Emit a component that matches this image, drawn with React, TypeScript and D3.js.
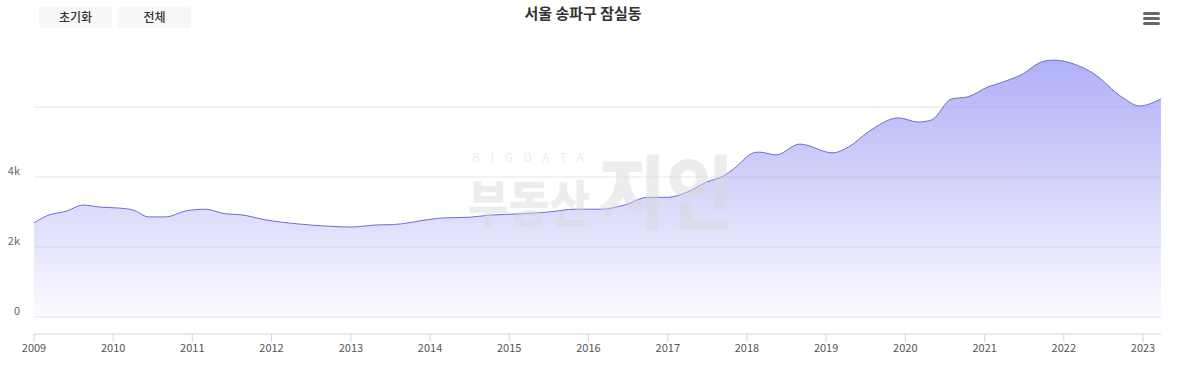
import React from "react";
import * as d3 from "d3";

const title = "서울 송파구 잠실동";
const buttons = ["초기화", "전체"];

const dates = [
  "2009-01-01","2009-03-01","2009-06-01","2009-08-15","2009-11-01","2010-02-01","2010-04-01","2010-06-15",
  "2010-09-01","2010-12-01","2011-03-01","2011-06-01","2011-08-15","2011-12-01","2012-05-01","2012-10-01",
  "2013-01-01","2013-05-01","2013-07-15","2014-01-01","2014-03-01","2014-07-01","2014-10-01","2015-03-01",
  "2015-07-01","2015-11-01","2016-03-01","2016-06-15","2016-10-01","2017-01-01","2017-04-01","2017-07-01",
  "2017-09-15","2017-11-01","2018-02-01","2018-03-01","2018-05-15","2018-09-01","2019-02-01","2019-04-15",
  "2019-07-15","2019-12-01","2020-03-01","2020-05-01","2020-08-01","2020-10-15","2021-01-15","2021-03-15",
  "2021-06-15","2021-10-01","2021-11-15","2022-03-01","2022-05-15","2022-10-01","2022-12-15","2023-03-25"
];
const values = [
  2690, 2890, 3030, 3200, 3140, 3110, 3060, 2860,
  2860, 3030, 3080, 2950, 2920, 2780, 2660, 2590,
  2570, 2630, 2640, 2790, 2830, 2850, 2910, 2950,
  3000, 3080, 3080, 3200, 3420, 3420, 3570, 3860,
  4030, 4230, 4690, 4710, 4630, 4940, 4690, 4860,
  5290, 5690, 5570, 5630, 6230, 6290, 6570, 6690,
  6910, 7310, 7340, 7200, 6970, 6260, 6030, 6230
];
const gridValues = [0, 2000, 4000, 6000];
const yLabelValues = [0, 2000, 4000];
const yearTicks = d3.range(2009, 2024);

export default function App() {
  const W = 1177, H = 379;
  const parse = d3.timeParse("%Y-%m-%d");
  const data = dates.map((d, i) => ({ date: parse(d) as Date, value: values[i] }));
  const x = d3.scaleTime()
    .domain([data[0].date, data[data.length - 1].date])
    .range([34, 1161]);
  const y = d3.scaleLinear().domain([0, 6000]).range([317, 107]);

  const line = d3.line<any>().x(d => x(d.date)).y(d => y(d.value)).curve(d3.curveMonotoneX);
  const area = d3.area<any>().x(d => x(d.date)).y0(y(0)).y1(d => y(d.value)).curve(d3.curveMonotoneX);
  const font = "'Noto Sans CJK KR', 'Noto Sans', sans-serif";

  return (
    <svg width={W} height={H} style={{ position: "absolute", left: 0, top: 0, background: "#fff" }}>
      <defs>
        <linearGradient id="areaGrad" x1="0" y1="0" x2="0" y2="1">
          <stop offset="0" stopColor="rgb(150,150,245)" stopOpacity={0.75} />
          <stop offset="1" stopColor="rgb(150,150,245)" stopOpacity={0.04} />
        </linearGradient>
      </defs>
      {/* buttons */}
      {buttons.map((b, i) => (
        <g key={b} transform={`translate(${39 + i * 79},7)`}>
          <rect width={73} height={21} rx={2} fill="#f7f7f7" />
          <text x={36.5} y={14.5} textAnchor="middle" fontSize={12} fontFamily={font} fill="#333" fontWeight={500}>{b}</text>
        </g>
      ))}
      {/* title */}
      <text x={583} y={19} textAnchor="middle" fontSize={15} fontWeight={700} fontFamily={font} fill="#333">{title}</text>
      {/* menu */}
      {[0, 5, 10].map(o => (
        <rect key={o} x={1143} y={12 + o} width={17} height={3} rx={1.5} fill="#666" />
      ))}
      {/* grid */}
      {gridValues.map(v => (
        <line key={v} x1={34} x2={1161} y1={y(v)} y2={y(v)} stroke="#e6e6e6" strokeWidth={1} />
      ))}
      {yLabelValues.map(v => (
        <text key={v} x={20} y={y(v) - 2} textAnchor="end" fontSize={11} fontFamily={font} fill="#666">
          {v === 0 ? "0" : `${v / 1000}k`}
        </text>
      ))}
      {/* area */}
      <path d={area(data) as string} fill="url(#areaGrad)" />
      <path d={line(data) as string} fill="none" stroke="#6b6be0" strokeWidth={1} />
      {/* watermark */}
      <g opacity={0.45} fontFamily={font} fill="#d8d8d8">
        <text x={472} y={162} fontSize={12} textLength={112} lengthAdjust="spacing">BIGDATA</text>
        <text x={468} y={222} fontSize={50} fontWeight={900} textLength={122} lengthAdjust="spacingAndGlyphs">부동산</text>
        <text x={598} y={222} fontSize={80} fontWeight={900} textLength={136} lengthAdjust="spacingAndGlyphs">지인</text>
      </g>
      {/* x axis */}
      <line x1={34} x2={1161} y1={334} y2={334} stroke="#ccd6eb" strokeWidth={1} />
      {yearTicks.map(yr => {
        const xx = x(new Date(yr, 0, 1));
        return (
          <g key={yr}>
            <line x1={xx} x2={xx} y1={334} y2={342} stroke="#ccd6eb" />
            <text x={xx} y={352} textAnchor="middle" fontSize={11} fontFamily={font} fill="#555">{yr}</text>
          </g>
        );
      })}
    </svg>
  );
}
